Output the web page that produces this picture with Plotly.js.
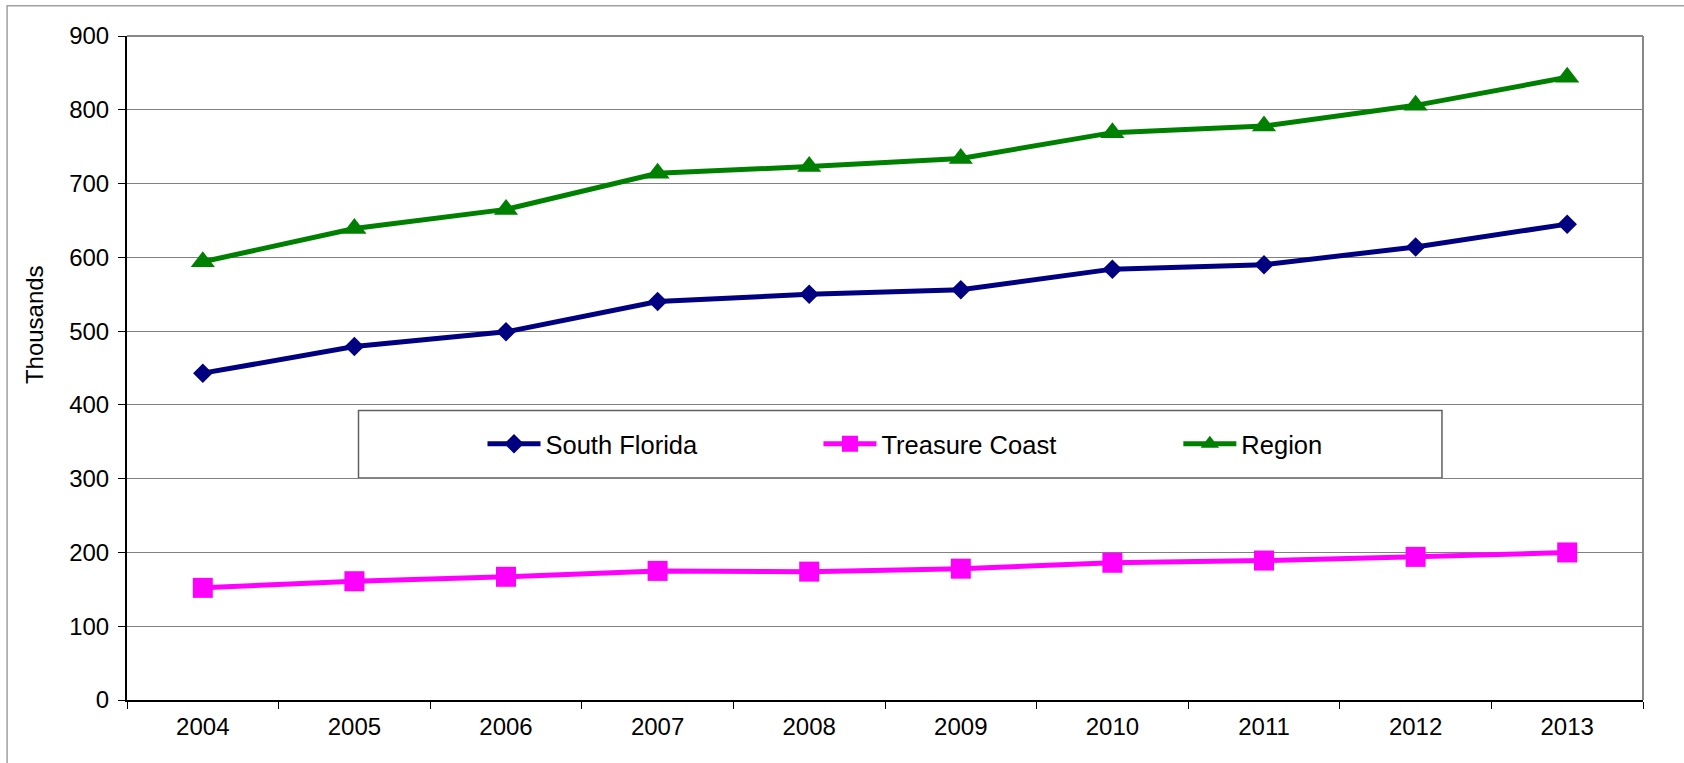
<!DOCTYPE html>
<html>
<head>
<meta charset="utf-8">
<script src="https://cdn.plot.ly/plotly-3.0.1.min.js"></script>
<style>
  html, body { margin: 0; padding: 0; background: #fff; }
  #chart { width: 1684px; height: 763px; }
</style>
</head>
<body>
<div id="chart"></div>
<script>
// ---- data (thousands) ----
const years = ['2004', '2005', '2006', '2007', '2008', '2009', '2010', '2011', '2012', '2013'];
const southFlorida = [443, 479, 499, 540, 550, 556, 584, 590, 614, 645];
const treasureCoast = [152, 161, 167, 175, 174, 178, 186, 189, 194, 200];
const region = [594, 639, 665, 714, 723, 734, 769, 778, 806, 844];
const yTickVals = [0, 100, 200, 300, 400, 500, 600, 700, 800, 900];
const seriesNames = ['South Florida', 'Treasure Coast', 'Region'];
const yTitle = 'Thousands';

const FONT = '"Liberation Sans", Arial, sans-serif';

const traces = [
  {
    x: years, y: southFlorida, name: seriesNames[0], type: 'scatter', mode: 'lines+markers',
    line: { color: '#000080', width: 5 },
    marker: { symbol: 'diamond', size: 15, color: '#000080' },
    legend: 'legend'
  },
  {
    x: years, y: treasureCoast, name: seriesNames[1], type: 'scatter', mode: 'lines+markers',
    line: { color: '#FF00FF', width: 5 },
    marker: { symbol: 'square', size: 20, color: '#FF00FF' },
    legend: 'legend2'
  },
  {
    x: years, y: region, name: seriesNames[2], type: 'scatter', mode: 'lines+markers',
    line: { color: '#008000', width: 5 },
    marker: { symbol: 'triangle-up', size: 21, color: '#008000' },
    legend: 'legend3'
  }
];

function legendAt(x) {
  return {
    x: x, xanchor: 'left', y: 0.3854, yanchor: 'middle',
    orientation: 'h', bgcolor: 'rgba(0,0,0,0)', borderwidth: 0,
    itemwidth: 53, itemclick: false, itemdoubleclick: false,
    font: { family: FONT, size: 25.5, color: '#000' }
  };
}

const layout = {
  width: 1684, height: 763,
  margin: { l: 127, r: 41, t: 36, b: 63 },
  paper_bgcolor: '#fff', plot_bgcolor: '#fff',
  font: { family: FONT, size: 24, color: '#000' },
  showlegend: true,
  hovermode: false,
  legend: legendAt(0.2345),
  legend2: legendAt(0.4561),
  legend3: legendAt(0.6935),
  xaxis: {
    type: 'category', tickson: 'boundaries', range: [-0.5, 9.5],
    ticks: 'outside', ticklen: 7, tickwidth: 1, tickcolor: '#000',
    ticklabelstandoff: 4,
    showline: true, linecolor: '#000', linewidth: 2,
    showgrid: false, zeroline: false,
    tickfont: { family: FONT, size: 24, color: '#000' },
    fixedrange: true
  },
  yaxis: {
    range: [0, 900], tickvals: yTickVals,
    ticks: 'outside', ticklen: 7, tickwidth: 1, tickcolor: '#000',
    ticklabelstandoff: 4,
    showline: true, linecolor: '#000', linewidth: 2,
    showgrid: true, gridcolor: '#808080', gridwidth: 1,
    zeroline: false,
    tickfont: { family: FONT, size: 24, color: '#000' },
    fixedrange: true
  },
  annotations: [
    {
      text: yTitle, xref: 'paper', yref: 'paper', x: -0.0605, y: 0.565,
      xanchor: 'center', yanchor: 'middle', textangle: -90, showarrow: false,
      font: { family: FONT, size: 24, color: '#000' }
    }
  ],
  shapes: [
    // outer chart frame (extends off the right/bottom edge)
    { type: 'rect', xref: 'paper', yref: 'paper', x0: -0.0791, x1: 1.2, y0: -0.3, y1: 1.0456,
      line: { color: '#A0A0A0', width: 1.5 }, fillcolor: 'rgba(0,0,0,0)', layer: 'below' },
    // plot area top and right border
    { type: 'line', xref: 'paper', yref: 'paper', x0: 0, x1: 1, y0: 1, y1: 1,
      line: { color: '#888888', width: 2 }, layer: 'above' },
    { type: 'line', xref: 'paper', yref: 'paper', x0: 1, x1: 1, y0: 0, y1: 1,
      line: { color: '#888888', width: 2 }, layer: 'above' },
    // legend box
    { type: 'rect', xref: 'paper', yref: 'paper', x0: 0.1527, x1: 0.8674, y0: 0.3342, y1: 0.4359,
      line: { color: '#606060', width: 1.5 }, fillcolor: '#fff', layer: 'below' }
  ]
};

Plotly.newPlot('chart', traces, layout, { displayModeBar: false, responsive: false });
</script>
</body>
</html>
